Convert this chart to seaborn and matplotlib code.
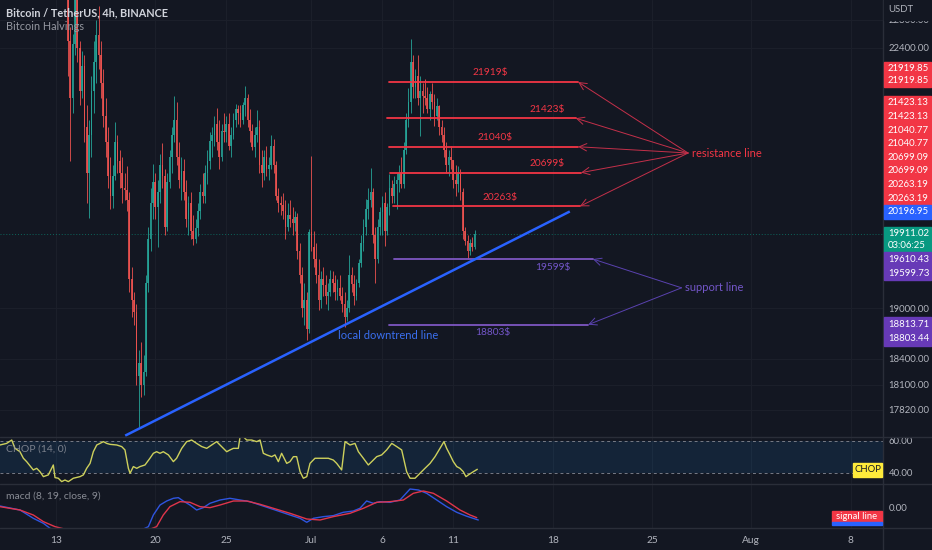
import pandas as pd
import matplotlib
matplotlib.use('Agg')
import matplotlib.pyplot as plt
from matplotlib.patches import Rectangle
from matplotlib.lines import Line2D
import seaborn as sns

# ---- BTCUSDT 4h candles (first candle Jun 13 16:00) ----
first_open = 23900
highs = [24200, 23400,
         22700, 22600, 23363, 23250, 22500, 22350,   # Jun 14
         22300, 21600, 21400, 22000, 22500, 22800,   # Jun 15
         22995, 22500, 22100, 21700, 21300, 20900,   # Jun 16
         20800, 21365, 21200, 21000, 20900, 20700,   # Jun 17
         20792, 20450, 19500, 19200, 19050, 18500,   # Jun 18
         18600, 18450, 19400, 20000, 20500, 20815,   # Jun 19
         20700, 20600, 20950, 21090, 20750, 20700,   # Jun 20
         21000, 21300, 21723, 21650, 21100, 20900,   # Jun 21
         20880, 20600, 20400, 20450, 20150, 20100,   # Jun 22
         20300, 20550, 20700, 20800, 21000, 21233,   # Jun 23
         21300, 21450, 21558, 21400, 21350, 21500,   # Jun 24
         21450, 21500, 21300, 21500, 21614, 21600,   # Jun 25
         21600, 21650, 21868, 21750, 21550, 21350,   # Jun 26
         21300, 21540, 21400, 21000, 21000, 21050,   # Jun 27
         20900, 21200, 21150, 20850, 20500, 20400,   # Jun 28
         20432, 20350, 20300, 20350, 20250, 20200,   # Jun 29
         20179, 19800, 19500, 19300, 19200, 19980,   # Jun 30
         20918, 19950, 19800, 19600, 19450, 19500,   # Jul 1
         19400, 19300, 19467, 19450, 19400, 19350,   # Jul 2
         19400, 19250, 19200, 19100, 19647, 19500,   # Jul 3
         19400, 19350, 19600, 19900, 20100, 20354,   # Jul 4
         20500, 20758, 20500, 20000, 20100, 20250,   # Jul 5
         20400, 20450, 20300, 20675, 20600, 20650,   # Jul 6
         20700, 20800, 20900, 21100, 21500, 21838,   # Jul 7
         22527, 22300, 22100, 22300, 22000, 21900,   # Jul 8
         21954, 21850, 21800, 21900, 21750, 21700,   # Jul 9
         21607, 21400, 21300, 21100, 21000, 21050,   # Jul 10
         20868, 20800, 20780, 20750, 20500, 20000,   # Jul 11
         19900, 19850, 19880, 19960]                 # Jul 12
lows = [23150, 22000,
        20846, 21500, 22300, 22200, 21600, 21700,
        21100, 20300, 20111, 20900, 21500, 21900,
        22100, 21700, 21300, 20900, 20500, 20232,
        20246, 20600, 20700, 20500, 20300, 20350,
        20200, 19200, 18900, 18800, 18100, 17622,
        17960, 17990, 18200, 19200, 19700, 20100,
        20100, 19750, 20300, 20500, 19900, 19950,
        20500, 20700, 21100, 20800, 20500, 20348,
        20350, 20000, 19900, 19850, 19770, 19800,
        19890, 20100, 20300, 20300, 20550, 20750,
        20900, 21050, 21000, 20740, 20850, 21100,
        21100, 21000, 20906, 21150, 21300, 21350,
        21300, 21350, 21450, 21300, 21100, 21000,
        20900, 21100, 20700, 20512, 20600, 20650,
        20600, 20750, 20700, 20350, 20188, 20150,
        20100, 19848, 19950, 20000, 19900, 19950,
        19600, 19300, 18900, 18800, 18626, 18700,
        19700, 19500, 19300, 18975, 19000, 19150,
        19050, 18977, 19150, 19200, 19100, 19100,
        19100, 18950, 18781, 18850, 18950, 19200,
        19038, 19100, 19250, 19500, 19700, 19900,
        20100, 20250, 19800, 19304, 19550, 19900,
        19900, 19761, 19900, 20150, 20300, 20300,
        20235, 20450, 20500, 20500, 20950, 21300,
        21500, 21700, 21700, 21600, 21189, 21500,
        21600, 21500, 21400, 21550, 21319, 21400,
        21200, 21100, 20900, 20700, 20655, 20750,
        20500, 20400, 20450, 20350, 19850, 19780,
        19599, 19650, 19700, 19720]
closes = [23300, 22487,
          21700, 22450, 23150, 22400, 21800, 22136,
          21300, 20700, 21200, 21800, 22200, 22583,
          22300, 21900, 21450, 21100, 20650, 20401,
          20650, 21100, 20850, 20700, 20500, 20468,
          20350, 19350, 19100, 18950, 18200, 18350,
          18100, 18250, 19300, 19850, 20300, 20574,
          20250, 20450, 20800, 20650, 20000, 20573,
          20900, 21200, 21400, 20900, 20600, 20724,
          20450, 20100, 20300, 19950, 19850, 19987,
          20200, 20450, 20400, 20700, 20850, 21110,
          21200, 21350, 21100, 20900, 21250, 21237,
          21350, 21050, 21200, 21400, 21550, 21492,
          21400, 21600, 21700, 21400, 21250, 21039,
          21200, 21300, 20800, 20700, 20900, 20742,
          20800, 21050, 20800, 20400, 20300, 20281,
          20200, 20000, 20150, 20100, 20050, 20123,
          19700, 19400, 19000, 19100, 18750, 19942,
          19750, 19600, 19400, 19100, 19350, 19279,
          19150, 19200, 19350, 19300, 19200, 19242,
          19150, 19050, 18900, 19000, 19400, 19297,
          19150, 19300, 19550, 19800, 20000, 20231,
          20350, 20450, 19900, 19600, 20000, 20190,
          20300, 19950, 20250, 20500, 20400, 20548,
          20600, 20700, 20550, 21000, 21400, 21637,
          22200, 21850, 22000, 21700, 21800, 21731,
          21700, 21550, 21750, 21650, 21450, 21592,
          21300, 21200, 21000, 20800, 20900, 20860,
          20600, 20550, 20700, 20450, 19950, 19820,
          19700, 19800, 19750, 19911]

# ---- CHOP (14, 0): days since Jun 13, value ----
chop_day = [-3.95, -3.48, -3.12, -2.89, -2.54, -2.30, -2.07, -1.60, -1.36, -1.13,
            -0.89, -0.54, -0.19, -0.07, 0.16, 0.40, 0.63, 0.87, 1.22, 1.69,
            1.93, 2.16, 2.40, 2.63, 2.87, 3.10, 3.34, 3.57, 3.81, 4.28,
            4.63, 4.86, 5.10, 5.22, 5.45, 5.69, 5.92, 6.27, 6.62, 6.86,
            7.09, 7.33, 7.56, 7.92, 8.27, 8.50, 8.86, 9.21, 9.56, 9.91,
            10.27, 10.62, 10.97, 11.32, 11.67, 12.03, 12.26, 12.50, 12.85, 12.97,
            13.20, 13.44, 13.79, 14.14, 14.38, 14.61, 14.85, 15.20, 15.43, 15.67,
            15.90, 16.26, 16.49, 16.73, 16.96, 17.20, 17.43, 17.67, 17.90, 18.25,
            18.61, 19.19, 19.54, 19.78, 20.13, 20.37, 20.72, 21.07, 21.31, 21.66,
            22.01, 22.25, 22.60, 22.95, 23.30, 23.66, 24.01, 24.36, 24.71, 24.95,
            25.30, 25.65, 26.00, 26.36, 26.71, 27.06, 27.34, 27.53, 27.77, 28.00,
            28.24, 28.47, 28.70, 28.89, 29.06, 29.41, 29.69]
chop_val = [57.5, 58.5, 60.6, 55.4, 53.3, 49.2, 47.1, 41.9, 42.9, 40.8,
            37.7, 38.8, 45.0, 37.1, 36.7, 34.6, 35.6, 34.6, 36.7, 37.7,
            38.8, 42.9, 46.0, 53.3, 57.5, 58.5, 59.6, 58.5, 57.9, 57.5,
            56.5, 54.4, 42.9, 39.8, 44.0, 42.9, 44.0, 45.0, 49.2, 52.3,
            53.3, 52.3, 53.3, 51.3, 47.1, 49.2, 55.4, 59.6, 60.6, 58.5,
            56.5, 55.4, 57.5, 59.6, 56.5, 53.3, 54.4, 55.4, 55.4, 62.7,
            62.7, 60.6, 60.6, 59.6, 60.6, 52.3, 51.3, 50.2, 51.3, 47.1,
            52.3, 46.0, 47.1, 50.2, 50.2, 40.8, 36.7, 37.7, 46.0, 49.2,
            49.2, 49.2, 48.1, 46.0, 41.9, 59.6, 57.5, 58.5, 53.3, 49.2,
            45.0, 47.1, 50.2, 51.3, 54.4, 58.5, 56.5, 54.4, 40.8, 36.7,
            36.7, 39.8, 42.9, 46.0, 50.2, 55.4, 59.6, 55.4, 51.3, 47.1,
            44.0, 42.9, 40.8, 37.7, 38.8, 40.8, 42.3]

# ---- MACD (8, 19, close, 9) ----
macd_day = [-3.95, -2.54, -1.60, -0.89, -0.42, 0.75, 3.10, 5.45, 6.51, 6.86,
            7.33, 7.80, 8.27, 8.62, 8.97, 9.44, 9.91, 10.38, 10.85, 11.56,
            12.26, 12.97, 13.67, 14.38, 15.08, 15.79, 16.49, 17.20, 17.67, 18.14,
            18.84, 19.54, 20.25, 20.95, 21.42, 21.89, 22.36, 22.83, 23.54, 24.24,
            24.95, 25.54, 26.12, 26.83, 27.53, 28.24, 28.94, 29.76]
macd_val = [34, -46, -212, -312, -412, -520, -600, -520, -379, -146,
            54, 134, 188, 201, 134, 54, -46, 1, 88, 154,
            188, 154, 121, 54, -12, -79, -146, -212, -292, -212,
            -179, -159, -92, -66, -12, 134, 88, 121, 108, 154,
            374, 354, 288, 154, 21, -92, -170, -246]
signal_day = [-3.95, -2.54, -1.60, -0.89, -0.07, 1.93, 4.28, 6.16, 7.09, 7.56,
              8.03, 8.74, 9.44, 10.15, 10.85, 11.56, 12.50, 13.44, 14.38, 15.32,
              16.49, 17.67, 18.61, 19.54, 20.72, 21.66, 22.60, 23.54, 24.48, 25.18,
              25.89, 26.59, 27.53, 28.47, 29.18, 29.65]
signal_val = [21, -46, -146, -279, -379, -520, -560, -480, -379, -146,
              21, 121, 108, 21, 1, 54, 134, 134, 68, -12,
              -112, -226, -246, -179, -112, -12, 108, 121, 154, 288,
              334, 288, 134, -46, -146, -199]

# ---- drawings ----
res_levels = [21919, 21423, 21040, 20699, 20263]
res_start = ['2022-07-06 11:00', '2022-07-06 08:00', '2022-07-06 11:00', '2022-07-06 13:00', '2022-07-06 18:00']
res_end = ['2022-07-19 19:00', '2022-07-19 15:00', '2022-07-19 19:00', '2022-07-20 00:00', '2022-07-19 22:00']
res_label_at = ['2022-07-13 14:00', '2022-07-17 14:00', '2022-07-13 22:00', '2022-07-17 14:00', '2022-07-14 07:00']
sup_levels = [19599, 18803]
sup_start = ['2022-07-06 19:00', '2022-07-06 11:00']
sup_end = ['2022-07-20 20:00', '2022-07-20 12:00']
sup_label_at = ['2022-07-18 00:00', '2022-07-13 19:00']
trend_t = ['2022-06-17 21:00', '2022-07-19 05:00']
trend_p = [17530, 20197]

price_ticks = [17820, 18100, 18400, 19000, 22400, 22800]
date_ticks = ['2022-06-13', '2022-06-20', '2022-06-25', '2022-07-01', '2022-07-06',
              '2022-07-11', '2022-07-18', '2022-07-25', '2022-08-01', '2022-08-08']
date_labels = ['13', '20', '25', 'Jul', '6', '11', '18', '25', 'Aug', '8']

BG = '#131722'
TXT = '#b2b5be'
GRID = '#1c202b'
RED = '#f23645'
PURPLE = '#7356c9'
BLUE = '#2962ff'
AXFS = 6.9

sns.set_theme(style='dark', rc={'axes.facecolor': BG, 'figure.facecolor': BG,
                                'axes.grid': True, 'grid.color': GRID, 'grid.linewidth': 0.7})
plt.rcParams['font.family'] = ['Lato', 'DejaVu Sans']

t0 = pd.Timestamp('2022-06-13')


def day(ts):
    return (pd.Timestamp(ts) - t0) / pd.Timedelta('1D')


times = pd.date_range('2022-06-13 16:00', periods=len(closes), freq='4h')
df = pd.DataFrame({'t': [(t - t0) / pd.Timedelta('1D') for t in times],
                   'high': highs, 'low': lows, 'close': closes})
df['open'] = [first_open] + closes[:-1]
up = df['close'] >= df['open']
cols = ['#26a69a' if u else '#ef5350' for u in up]

W, H = 932, 550
fig = plt.figure(figsize=(W / 100, H / 100), dpi=100)
xr = 883 / W
ax = fig.add_axes([0, 1 - 437 / H, xr, 437 / H])
ax_chop = fig.add_axes([0, 1 - 484 / H, xr, 47 / H])
ax_macd = fig.add_axes([0, 1 - 528 / H, xr, 44 / H])

xlim = (-3.947, 58.28)
xt = [day(d) for d in date_ticks]
for a in (ax, ax_chop, ax_macd):
    a.set_xlim(*xlim)
    a.set_xticks(xt)
    for s in a.spines.values():
        s.set_visible(False)
    a.yaxis.tick_right()
    a.tick_params(axis='y', length=0, pad=4, labelsize=AXFS, labelcolor=TXT)
    a.tick_params(axis='x', length=0, labelbottom=False)
    a.grid(True, color=GRID, lw=0.7)

# ---- main price pane ----
ax.set_yscale('log')
ax.set_ylim(17515, 23084)
ax.minorticks_off()
ax.set_yticks(price_ticks)
ax.set_yticklabels([f'{v:.2f}' for v in price_ticks])

body_lo = df[['open', 'close']].min(axis=1)
body_h = (df['close'] - df['open']).abs().clip(lower=6)
ax.vlines(df['t'], df['low'], df['high'], colors=cols, lw=0.7, alpha=0.85, zorder=2)
ax.bar(df['t'], body_h, bottom=body_lo, width=0.12, color=cols, lw=0, alpha=0.85, zorder=3)

ax.axhline(closes[-1], color='#089981', ls=(0, (1, 2)), lw=0.7, alpha=0.6, zorder=1)

# resistance / support levels
apex_res = (day('2022-07-27 13:00'), 20957)
for lvl, s, e, lab in zip(res_levels, res_start, res_end, res_label_at):
    ax.plot([day(s), day(e)], [lvl, lvl], color=RED, lw=1.3, zorder=4)
    ax.annotate(f'{lvl}$', xy=(day(lab), lvl), xytext=(0, 9), textcoords='offset pixels',
                ha='center', va='center', color=RED, fontsize=7.3)
    ax.annotate('', xy=(day(e), lvl), xytext=apex_res,
                arrowprops=dict(arrowstyle='->,head_length=0.45,head_width=0.22',
                                color='#c4304a', lw=0.7, shrinkA=0, shrinkB=0))
ax.text(apex_res[0] + 0.3, apex_res[1], 'resistance line', color=RED, fontsize=8,
        ha='left', va='center')

apex_sup = (day('2022-07-27 02:00'), 19246)
for lvl, s, e, lab in zip(sup_levels, sup_start, sup_end, sup_label_at):
    ax.plot([day(s), day(e)], [lvl, lvl], color='#7e57c2', lw=1.3, zorder=4)
    ax.annotate(f'{lvl}$', xy=(day(lab), lvl), xytext=(0, -8), textcoords='offset pixels',
                ha='center', va='center', color=PURPLE, fontsize=7.3)
    ax.annotate('', xy=(day(e), lvl), xytext=apex_sup,
                arrowprops=dict(arrowstyle='->,head_length=0.45,head_width=0.22',
                                color='#5a42b0', lw=0.7, shrinkA=0, shrinkB=0))
ax.text(apex_sup[0] + 0.25, apex_sup[1], 'support line', color=PURPLE, fontsize=8,
        ha='left', va='center')

ax.plot([day(t) for t in trend_t], trend_p, color=BLUE, lw=1.8, zorder=5, solid_capstyle='butt')
ax.text(day('2022-07-02 21:00'), 18680, 'local downtrend line', color='#3a6ff0', fontsize=8,
        ha='left', va='center')

# ---- CHOP pane ----
ax_chop.set_ylim(33.1, 62.5)
ax_chop.axhspan(40, 60, color='#2196f3', alpha=0.11, lw=0)
for v in (40, 60):
    ax_chop.axhline(v, color='#787b86', lw=0.7, ls=(0, (3, 3)))
sns.lineplot(x=chop_day, y=chop_val, ax=ax_chop, color='#cdd05c', lw=1)
ax_chop.set_yticks([40, 60])
ax_chop.set_yticklabels(['40.00', '60.00'])
ax_chop.grid(False, axis='y')
ax_chop.text(0.007, 0.74, 'CHOP (14, 0)', transform=ax_chop.transAxes, color='#9598a1',
             fontsize=7.5, va='center', alpha=0.8)

# ---- MACD pane ----
ax_macd.set_ylim(-406, 474)
sns.lineplot(x=macd_day, y=macd_val, ax=ax_macd, color='#2f55e0', lw=1)
sns.lineplot(x=signal_day, y=signal_val, ax=ax_macd, color='#e0354b', lw=1)
ax_macd.set_yticks([0])
ax_macd.set_yticklabels(['0.00'])
ax_macd.grid(False, axis='y')
ax_macd.text(0.007, 0.72, 'macd (8, 19, close, 9)', transform=ax_macd.transAxes, color='#9598a1',
             fontsize=7.5, va='center', alpha=0.9)
ax_macd.tick_params(axis='x', labelbottom=True, labelsize=7.3, labelcolor=TXT, pad=6)
ax_macd.set_xticklabels(date_labels)
for a in (ax, ax_chop, ax_macd):
    a.set_xlabel('')
    a.set_ylabel('')


# ---- figure-level decorations (pixel positions) ----
def fx(px):
    return px / W


def fy(py):
    return 1 - py / H


for py in (437, 484, 528):
    fig.add_artist(Line2D([0, 1], [fy(py), fy(py)], transform=fig.transFigure, color='#2a2e39', lw=1))
fig.add_artist(Line2D([xr, xr], [0, 1], transform=fig.transFigure, color='#2a2e39', lw=1))

fig.add_artist(Rectangle((fx(884), fy(20)), fx(48), 20 / H, transform=fig.transFigure,
                         color=BG, zorder=10))
fig.text(fx(888), fy(10), 'USDT', color=TXT, fontsize=AXFS, va='center', zorder=11)

badges = [(62, 87, RED, ['21919.85', '21919.85']),
          (96, 205, RED, ['21423.13', '21423.13', '21040.77', '21040.77',
                          '20699.09', '20699.09', '20263.19', '20263.19']),
          (205, 219, BLUE, ['20196.95']),
          (227, 252, '#089981', ['19911.02', '03:06:25']),
          (252, 280, '#673ab7', ['19610.43', '19599.73']),
          (317, 346, '#673ab7', ['18813.71', '18803.44'])]
for top, bot, c, labs in badges:
    fig.add_artist(Rectangle((fx(884), fy(bot)), fx(47), (bot - top) / H,
                             transform=fig.transFigure, color=c, zorder=10))
    step = (bot - top) / len(labs)
    for k, lab in enumerate(labs):
        fig.text(fx(888), fy(top + (k + 0.5) * step), lab, color='white', fontsize=AXFS,
                 va='center', ha='left', zorder=11)

fig.add_artist(Rectangle((fx(853), fy(477)), fx(29), 14 / H, transform=fig.transFigure,
                         color='#ffeb3b', zorder=10))
fig.text(fx(867.5), fy(470), 'CHOP', color='#131722', fontsize=6.8, ha='center', va='center', zorder=11)
fig.add_artist(Rectangle((fx(832), fy(522)), fx(50), 11 / H, transform=fig.transFigure,
                         color=RED, zorder=10))
fig.add_artist(Rectangle((fx(832), fy(525)), fx(50), 3 / H, transform=fig.transFigure,
                         color=BLUE, zorder=10))
fig.text(fx(857), fy(516.5), 'signal line', color='white', fontsize=6.8, ha='center', va='center', zorder=11)

fig.text(fx(6), fy(13), 'Bitcoin / TetherUS, 4h, BINANCE', color='#d1d4dc', fontsize=7.8,
         va='center', weight='bold')
fig.text(fx(6), fy(27), 'Bitcoin Halvings', color='#9598a1', fontsize=7.8, va='center')

fig.savefig('out.png', dpi=100, facecolor=BG)
